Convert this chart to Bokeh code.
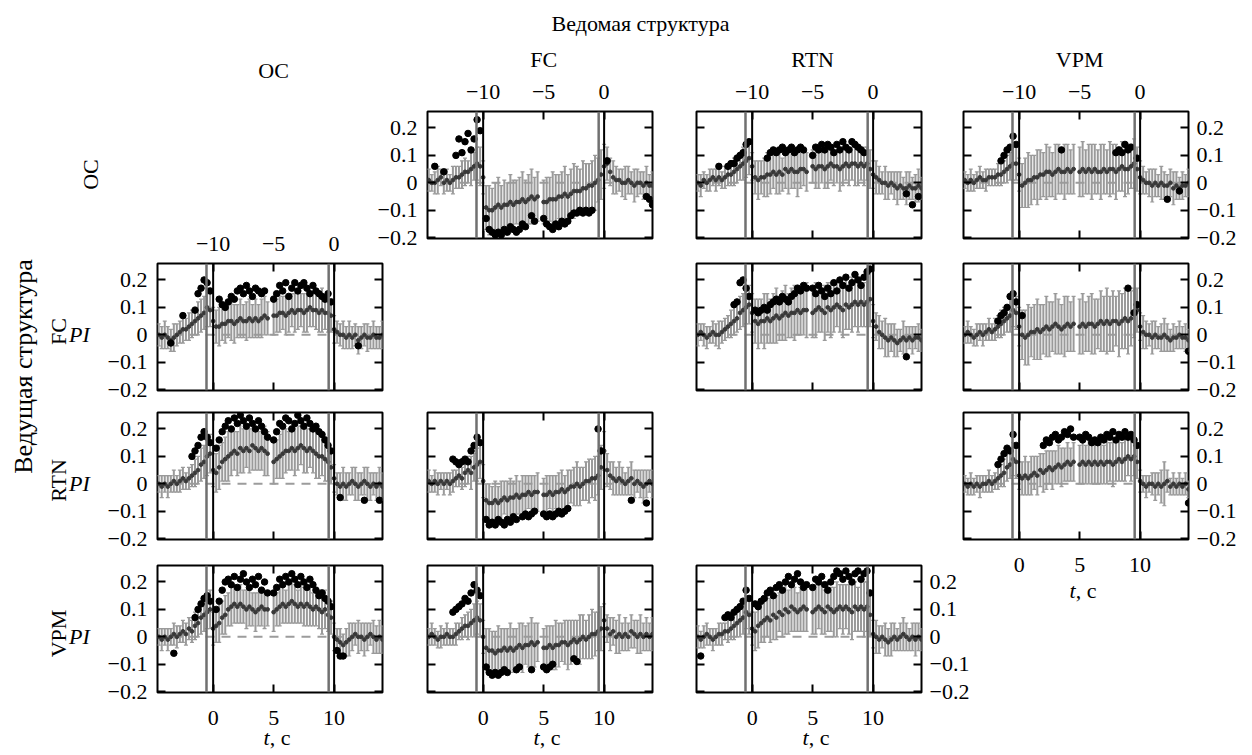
import math
from bokeh.plotting import figure
from bokeh.models import (Range1d, LinearAxis, FixedTicker, CustomJSTickFormatter, Span,
                          Whisker, TeeHead, ColumnDataSource, Label, GridBox)
from bokeh.embed import file_html
from bokeh.resources import INLINE

N = None

# ---------------- data ----------------
t = [-4.5, -4.25, -4.0, -3.75, -3.5, -3.25, -3.0, -2.75, -2.5, -2.25,
     -2.0, -1.75, -1.5, -1.25, -1.0, -0.75, -0.5, -0.25,
     0.0, 0.25, 0.5, 0.75, 1.0, 1.25, 1.5, 1.75, 2.0, 2.25, 2.5, 2.75, 3.0, 3.25, 3.5, 3.75, 4.0, 4.25, 4.5,
     4.75,
     5.0, 5.25, 5.5, 5.75, 6.0, 6.25, 6.5, 6.75, 7.0, 7.25, 7.5, 7.75, 8.0, 8.25, 8.5, 8.75, 9.0, 9.25, 9.5, 9.75,
     10.0, 10.25, 10.5, 10.75, 11.0, 11.25, 11.5, 11.75, 12.0, 12.25, 12.5, 12.75, 13.0, 13.25, 13.5, 13.75, 14.0]

structures = ["OC", "FC", "RTN", "VPM"]
x_ticks = [0, 5, 10]
top_ticks = [-10, -5, 0]
y_ticks = [-0.2, -0.1, 0, 0.1, 0.2]
markers_gray = [-0.55, 9.55]
markers_black = [0.0, 10.0]

# values in units of 0.01 (PI); mean, error half-width, black (extreme) points
oc_fc_mean = [1, 0, 0, 1, 2, 0, 1, 0, 1, 2,
              2, 3, 4, 4, 5, 6, 7, 6,
              2, -9, -10, -10, -9, -8, -9, -8, -8, -7, -8, -7, -7, -6, -7, -6, -5, -6, -5,
              N,
              -7, -7, -6, -6, -6, -5, -5, -4, -5, -4, -3, -3, -3, -2, -2, -1, -1, 0, 1, 3,
              6, 7, 4, 2, 1, 1, 0, 0, 1, 0, -1, 0, 0, -1, 0, -1, -1]
oc_fc_err = [4, 3, 4, 5, 3, 4, 4, 3, 5, 4,
             4, 5, 5, 4, 6, 5, 6, 7,
             6, 8, 9, 8, 9, 10, 8, 9, 8, 10, 9, 8, 9, 10, 8, 9, 10, 8, 9,
             N,
             8, 9, 8, 10, 9, 8, 9, 10, 8, 9, 10, 9, 8, 10, 9, 8, 9, 10, 8, 9,
             8, 6, 5, 6, 5, 4, 5, 6, 5, 4, 6, 5, 4, 5, 6, 4, 5]
oc_fc_blk = [N, N, 6, N, N, 4, N, N, N, 10,
             16, 11, 15, 18, 12, 16, 23, 19,
             N, -13, -17, -18, -19, -18, -19, -17, -18, -16, -17, -18, -17, -15, -16, N, -12, -14, N,
             N,
             -13, -15, -16, -17, -15, -16, -14, -15, -14, -12, -11, -11, -10, -11, -10, -11, -10, N, N, N,
             N, 8, N, N, N, N, N, N, N, N, N, N, N, N, -5, -6, -8]

oc_rtn_mean = [0, -1, 1, 0, 1, 2, 1, 2, 1, 2,
               3, 3, 4, 5, 6, 7, 8, 9,
               6, 2, 1, 2, 2, 3, 3, 4, 3, 4, 3, 5, 4, 5, 4, 4, 5, 5, 4,
               N,
               6, 5, 6, 6, 5, 6, 7, 6, 6, 5, 6, 7, 6, 7, 7, 6, 7, 6, 7, 5,
               3, 2, 1, 0, 0, -1, 0, -1, -2, -1, -2, -2, -1, -2, -2, -1, -2]
oc_rtn_err = [3, 4, 3, 3, 4, 3, 4, 3, 3, 4,
              4, 4, 5, 5, 5, 6, 6, 6,
              5, 6, 7, 6, 7, 8, 7, 6, 7, 8, 6, 7, 8, 7, 6, 9, 7, 6, 7,
              N,
              6, 7, 8, 6, 7, 8, 6, 7, 6, 8, 7, 6, 7, 6, 8, 7, 6, 7, 6, 7,
              5, 6, 5, 4, 6, 5, 4, 5, 6, 5, 4, 6, 5, 4, 5, 6, 4]
oc_rtn_blk = [N, N, N, N, N, N, N, 6, N, N,
              6, 7, 7, 9, 10, 11, 14, 15,
              N, N, N, N, N, 9, 11, 12, 11, 12, 13, 11, 12, 13, 11, 12, 13, 12, N,
              N,
              10, 13, 12, 14, 12, 14, 13, 11, 14, 12, 15, 13, 12, 15, 14, 13, 12, 11, N, N,
              N, N, N, N, N, N, N, N, N, N, N, -4, N, -8, N, -5, N]

oc_vpm_mean = [1, 0, 1, 0, 1, 2, 1, 1, 2, 2,
               2, 3, 3, 4, 5, 6, 7, 7,
               3, -1, 0, 1, 1, 2, 2, 3, 3, 4, 4, 3, 4, 5, 4, 4, 5, 4, 5,
               N,
               4, 5, 4, 5, 4, 5, 4, 4, 5, 4, 5, 5, 4, 5, 6, 5, 5, 6, 7, 5,
               2, 1, 0, 0, -1, 0, -1, 0, -1, -1, 0, -2, -1, -2, -1, -1, 0]
oc_vpm_err = [3, 3, 4, 3, 3, 4, 3, 4, 3, 3,
              3, 4, 4, 4, 5, 5, 6, 6,
              6, 8, 9, 10, 9, 8, 10, 9, 8, 10, 9, 8, 10, 9, 8, 10, 9, 8, 9,
              N,
              9, 10, 8, 9, 10, 9, 8, 10, 9, 8, 10, 9, 10, 8, 9, 10, 9, 8, 9, 8,
              6, 5, 4, 5, 6, 5, 4, 6, 5, 4, 5, 6, 5, 4, 5, 4, 5]
oc_vpm_blk = [N, N, N, N, N, N, N, N, N, N,
              N, N, 8, 10, 12, 13, 17, 14,
              N, N, N, N, N, N, N, N, N, N, N, N, N, N, 12, N, N, N, N,
              N,
              N, N, N, N, N, N, N, N, N, N, N, N, 11, 12, 11, 14, 12, 13, N, 9,
              N, N, N, N, N, N, N, N, N, -6, N, N, N, -3, N, N, N]

fc_oc_mean = [0, -1, 0, -1, -2, -1, 0, 1, 2, 2,
              3, 4, 5, 6, 7, 8, 10, 9,
              5, 3, 3, 4, 4, 5, 5, 4, 5, 6, 5, 5, 6, 5, 6, 5, 6, 7, 6,
              N,
              7, 7, 8, 8, 7, 8, 9, 8, 9, 9, 8, 9, 10, 9, 9, 8, 9, 8, 8, 7,
              2, 1, 0, 0, -1, 0, -1, 0, -2, -1, 0, -1, -1, 0, -1, -1, 0]
fc_oc_err = [4, 4, 5, 4, 4, 5, 4, 4, 5, 4,
             5, 5, 5, 6, 6, 6, 7, 6,
             5, 6, 7, 6, 7, 6, 7, 7, 6, 7, 6, 7, 7, 6, 7, 6, 7, 7, 6,
             N,
             7, 6, 7, 6, 7, 7, 6, 7, 7, 6, 7, 8, 7, 6, 7, 7, 8, 6, 7, 6,
             5, 4, 4, 5, 4, 5, 4, 4, 5, 4, 4, 5, 4, 5, 4, 4, 5]
fc_oc_blk = [N, N, N, N, -3, N, N, N, 7, N,
             N, N, 9, 15, 17, 20, 19, 16,
             N, N, 13, 11, 10, 12, 14, 13, 16, 17, 15, 18, 16, 14, 17, 16, 15, 16, N,
             N,
             13, 15, 18, 16, 19, 14, 17, 19, 16, 18, 19, 17, 15, 18, 16, 15, 14, 13, 15, 12,
             N, N, N, N, N, N, N, N, -4, N, N, N, N, N, N, N, N]

fc_rtn_mean = [0, 1, 0, -1, 0, 1, 0, 0, 1, 2,
               3, 4, 5, 6, 8, 9, 10, 11,
               8, 5, 4, 5, 5, 6, 5, 6, 7, 6, 7, 8, 7, 8, 8, 9, 8, 9, 9,
               N,
               8, 9, 10, 9, 8, 10, 9, 10, 11, 10, 9, 11, 10, 11, 12, 11, 12, 11, 12, 13,
               5, 3, 1, 0, -1, -2, -1, -2, -3, -2, -1, -2, -1, -2, -1, -1, -2]
fc_rtn_err = [4, 3, 4, 4, 3, 4, 4, 5, 4, 4,
              4, 5, 5, 5, 6, 6, 6, 7,
              7, 8, 9, 8, 10, 9, 8, 9, 10, 8, 9, 10, 8, 9, 10, 9, 8, 9, 10,
              N,
              9, 10, 9, 8, 10, 9, 10, 9, 8, 9, 10, 9, 8, 10, 9, 10, 9, 8, 9, 10,
              6, 5, 6, 5, 7, 6, 5, 6, 5, 4, 6, 5, 4, 5, 4, 5, 4]
fc_rtn_blk = [N, N, N, N, N, N, N, N, N, N,
              N, N, 11, 12, 19, 20, 17, 14,
              N, 9, 8, 9, 10, 9, 11, 12, 13, 12, 14, 13, 12, 14, 15, 17, 16, 18, 17,
              N,
              17, 15, 18, 16, 14, 17, 15, 19, 16, 20, 18, 21, 17, 19, 22, 20, 18, 21, 23, 24,
              N, N, N, N, N, N, N, N, N, N, N, -8, N, N, N, N, N]

fc_vpm_mean = [0, 1, 0, -1, 0, 1, 0, 1, 2, 1,
               2, 3, 4, 5, 6, 7, 9, 8,
               3, 0, -1, 0, 1, 1, 2, 1, 2, 3, 2, 3, 4, 3, 2, 3, 4, 3, 4,
               N,
               3, 4, 3, 4, 4, 3, 4, 5, 4, 5, 4, 5, 5, 4, 5, 6, 5, 6, 8, 9,
               3, 1, 0, 0, -1, 0, -1, -1, 0, -1, -2, -1, -1, 0, -1, -1, -2]
fc_vpm_err = [3, 4, 3, 3, 4, 3, 4, 3, 4, 3,
              4, 4, 5, 5, 5, 6, 6, 6,
              7, 9, 10, 11, 9, 10, 11, 10, 9, 11, 10, 9, 11, 10, 9, 11, 10, 9, 10,
              N,
              10, 11, 9, 10, 11, 10, 9, 11, 10, 12, 10, 11, 9, 12, 10, 11, 12, 10, 9, 8,
              5, 6, 5, 4, 6, 5, 4, 5, 6, 5, 4, 5, 4, 5, 4, 5, 4]
fc_vpm_blk = [N, N, N, N, N, N, N, N, N, N,
              N, 5, 7, 8, 10, 14, 15, 12,
              N, 7, N, N, N, N, N, N, N, N, N, N, N, N, N, N, N, N, N,
              N,
              N, N, N, N, N, N, N, N, N, N, N, N, N, N, N, N, 17, N, 8, 11,
              N, N, N, N, N, N, N, N, N, N, N, N, N, N, N, N, -6]

rtn_oc_mean = [0, -1, 0, -1, 0, 1, 0, 1, 2, 1,
               2, 3, 4, 5, 7, 8, 10, 11,
               5, 4, 6, 8, 9, 10, 11, 12, 11, 13, 12, 13, 12, 14, 13, 12, 13, 12, 11,
               N,
               8, 9, 10, 11, 12, 12, 13, 12, 13, 14, 13, 12, 13, 12, 11, 10, 10, 9, 8, 6,
               2, 0, -1, 0, -1, 0, 1, 0, -1, 0, 1, 0, -1, 0, -1, 0, -1]
rtn_oc_err = [3, 4, 3, 4, 3, 4, 3, 4, 4, 3,
              4, 4, 5, 5, 6, 6, 7, 7,
              6, 7, 8, 7, 8, 9, 8, 7, 8, 9, 8, 7, 8, 9, 8, 7, 8, 9, 8,
              N,
              8, 7, 8, 9, 8, 7, 8, 9, 8, 7, 9, 8, 7, 8, 9, 8, 7, 8, 7, 6,
              5, 4, 5, 6, 5, 4, 5, 6, 5, 4, 5, 6, 5, 4, 5, 6, 5]
rtn_oc_blk = [N, N, N, N, N, N, N, N, N, N,
              N, 10, 12, 14, 17, 19, 17, 15,
              N, 13, 16, 19, 21, 23, 20, 24, 22, 25, 23, 21, 24, 22, 20, 23, 21, 19, 17,
              N,
              16, 19, 22, 21, 24, 23, 20, 22, 25, 23, 21, 24, 22, 20, 21, 19, 18, 16, 14, 12,
              N, N, -5, N, N, N, N, N, N, N, -6, N, N, N, N, -6, N]

rtn_fc_mean = [1, 0, 1, 0, 1, 0, 1, 0, 1, 2,
               3, 2, 4, 5, 4, 6, 7, 8,
               1, -6, -7, -7, -6, -7, -6, -5, -6, -5, -5, -4, -5, -4, -4, -3, -4, -3, -3,
               N,
               -4, -4, -3, -4, -3, -3, -2, -3, -2, -1, -1, 0, -1, 0, 1, 1, 2, 2, 3, 6,
               12, 5, 3, 2, 1, 2, 1, 0, 1, 2, 0, 1, 0, -1, 0, 1, 0]
rtn_fc_err = [4, 3, 4, 4, 3, 4, 3, 4, 4, 3,
              4, 4, 5, 5, 6, 5, 6, 6,
              6, 6, 7, 6, 7, 6, 7, 6, 7, 7, 6, 7, 6, 7, 7, 6, 7, 6, 7,
              N,
              6, 7, 6, 7, 6, 7, 7, 6, 7, 6, 7, 8, 7, 6, 7, 8, 7, 8, 7, 8,
              7, 6, 5, 6, 5, 6, 5, 4, 5, 6, 5, 4, 5, 6, 5, 4, 5]
rtn_fc_blk = [N, N, N, N, N, N, N, N, 9, 8,
              7, 8, 9, 8, 12, 14, 17, 15,
              N, -13, -15, -14, -15, -13, -14, -15, -13, -14, -12, -13, N, -12, -11, -12, -11, -10, N,
              N,
              -11, -12, -11, -12, -11, -10, -11, -10, -9, N, N, N, N, N, N, N, N, N, 20, 12,
              N, N, N, N, N, N, N, N, N, -6, N, N, N, N, -7, N, N]

rtn_vpm_mean = [0, -1, 0, -1, 0, -1, 0, 0, 1, 0,
                1, 2, 3, 4, 6, 7, 9, 8,
                3, 2, 3, 2, 3, 4, 3, 5, 4, 5, 6, 5, 6, 7, 6, 7, 8, 7, 8,
                N,
                7, 8, 7, 8, 7, 8, 7, 8, 7, 8, 8, 7, 8, 9, 8, 9, 10, 9, 10, 8,
                1, 0, -1, 0, 0, -1, 0, -1, 0, 1, -1, 0, -1, 0, -1, 0, -2]
rtn_vpm_err = [3, 3, 4, 3, 3, 4, 3, 3, 4, 3,
               3, 4, 4, 5, 5, 5, 6, 6,
               5, 6, 7, 6, 7, 6, 7, 6, 7, 7, 6, 7, 6, 7, 7, 6, 7, 6, 7,
               N,
               7, 8, 7, 8, 7, 8, 7, 8, 7, 8, 7, 8, 7, 8, 7, 8, 7, 8, 7, 6,
               4, 3, 4, 3, 4, 5, 4, 6, 8, 4, 3, 4, 3, 4, 3, 4, 3]
rtn_vpm_blk = [N, N, N, N, N, N, N, N, N, N,
               N, 7, 9, 11, 13, 12, 18, 14,
               N, N, N, N, N, N, N, N, 14, 16, 15, 17, 18, 16, 17, 19, 18, 20, 17,
               N,
               17, 16, 18, 17, 15, 16, 15, 17, 16, 18, 17, 19, 16, 18, 17, 19, 17, 18, 16, 14,
               N, N, N, N, N, N, N, N, N, N, N, N, N, N, N, N, -7]

vpm_oc_mean = [0, -1, 0, -1, 0, 1, 0, 1, 2, 1,
               3, 2, 4, 5, 7, 8, 9, 10,
               3, 4, 5, 7, 8, 10, 11, 12, 11, 12, 11, 10, 11, 10, 9, 10, 11, 10, 10,
               N,
               9, 10, 11, 12, 11, 12, 13, 12, 11, 12, 11, 12, 11, 10, 11, 10, 9, 10, 8, 7,
               0, -1, -2, -3, -2, -1, 0, 1, 0, 0, -1, 0, 1, 0, -1, 0, -1]
vpm_oc_err = [3, 4, 3, 4, 3, 4, 4, 3, 4, 4,
              4, 4, 5, 5, 6, 6, 6, 7,
              6, 6, 7, 6, 7, 6, 7, 7, 6, 7, 6, 7, 7, 6, 7, 6, 7, 7, 6,
              N,
              7, 6, 7, 7, 6, 7, 8, 7, 6, 7, 7, 8, 7, 6, 7, 7, 8, 7, 6, 6,
              5, 4, 5, 4, 5, 6, 5, 4, 6, 5, 6, 5, 4, 6, 5, 6, 5]
vpm_oc_blk = [N, N, N, N, N, -6, N, N, N, N,
              N, N, 7, 10, 12, 14, 15, 13,
              N, 10, 13, 17, 20, 21, 19, 22, 18, 21, 23, 20, 18, 21, 19, 22, 17, 20, 16,
              N,
              16, 18, 21, 19, 22, 20, 23, 21, 19, 22, 20, 18, 21, 19, 17, 15, 16, 14, 13, 11,
              N, -5, -7, -7, N, N, N, N, N, N, N, N, N, N, N, N, N]

vpm_fc_mean = [0, 1, 0, -1, 0, 0, 1, 0, 0, 1,
               2, 3, 4, 4, 5, 6, 7, 6,
               0, -4, -5, -5, -6, -5, -5, -4, -5, -4, -5, -4, -3, -4, -3, -3, -2, -3, -2,
               N,
               -4, -4, -3, -4, -3, -3, -2, -2, -3, -2, -1, -2, -1, 0, -1, 0, 1, 1, 2, 3,
               6, 3, 1, 2, 0, 1, 0, 1, 0, 2, 1, 0, 1, 0, 1, 0, 1]
vpm_fc_err = [3, 4, 3, 3, 4, 3, 4, 3, 3, 4,
              3, 4, 4, 5, 5, 6, 6, 6,
              6, 7, 8, 7, 8, 9, 8, 7, 8, 9, 8, 7, 8, 9, 7, 8, 9, 8, 7,
              N,
              7, 8, 7, 8, 9, 8, 7, 8, 9, 8, 7, 8, 9, 8, 7, 8, 9, 8, 7, 8,
              6, 5, 6, 5, 6, 7, 5, 6, 5, 6, 5, 6, 7, 5, 6, 5, 6]
vpm_fc_blk = [N, N, N, N, N, N, N, N, 9, 10,
              11, 12, 14, 13, 16, 19, 17, 15,
              N, -11, -13, -14, -13, -14, -13, -12, -13, N, N, -12, -11, N, N, N, -12, N, N,
              N,
              -11, -12, -11, -10, N, N, N, N, N, N, -8, -9, N, N, N, N, N, N, N, N,
              N, N, N, N, N, N, N, N, N, N, N, N, N, N, N, N, N]

vpm_rtn_mean = [0, -1, 0, 1, 0, -1, 0, 1, 1, 2,
                2, 3, 4, 5, 6, 7, 9, 8,
                3, 2, 4, 5, 6, 7, 6, 8, 7, 9, 8, 10, 9, 11, 10, 9, 10, 11, 10,
                N,
                9, 10, 11, 10, 9, 11, 10, 9, 10, 11, 10, 11, 10, 9, 11, 10, 11, 10, 11, 8,
                1, 0, -1, 0, -1, -2, -1, 0, -1, 0, 1, 0, -1, 0, -1, 0, -1]
vpm_rtn_err = [4, 3, 4, 4, 3, 4, 3, 4, 4, 3,
               4, 4, 5, 5, 6, 6, 6, 7,
               6, 7, 8, 7, 8, 7, 8, 9, 8, 7, 8, 9, 8, 9, 8, 7, 8, 9, 8,
               N,
               8, 9, 8, 9, 8, 9, 8, 9, 10, 8, 9, 8, 9, 10, 9, 8, 9, 10, 9, 8,
               5, 6, 5, 4, 6, 5, 6, 5, 4, 5, 6, 5, 4, 5, 6, 5, 4]
vpm_rtn_blk = [N, -7, N, N, N, N, N, N, N, 7,
               8, 7, 9, 10, 11, 13, 17, 14,
               N, 12, 11, 13, 14, 16, 17, 15, 18, 19, 17, 20, 22, 19, 21, 23, 20, 18, 19,
               N,
               18, 21, 20, 22, 19, 17, 20, 22, 24, 23, 21, 24, 22, 20, 23, 24, 21, 23, 24, 16,
               N, N, N, N, N, N, N, N, N, N, N, N, N, N, N, N, N]

# ---------------- layout constants ----------------
FONT = "Liberation Serif"
FS = "22px"
FS_SIDE = "26px"
XMIN, XMAX = -4.6, 14.0
YMIN, YMAX = -0.203, 0.26
FL = [157, 427, 696, 963]       # frame left (page px) per column
FT = [111, 263, 412, 565]       # frame top (page px) per row
FW, FH = 225, 127
BL, BR, BT, BB = 60, 52, 48, 52
PW, PH = BL + FW + BR, BT + FH + BB
GW, GH = 1250, 754
JS = "return tick < 0 ? '\u2212' + String(-tick) : String(tick);"


def no_grid(p):
    p.xgrid.visible = False
    p.ygrid.visible = False


def add_axis(p, side, show, ticks, standoff, range_name=None):
    kw = {"x_range_name": range_name} if range_name else {}
    ax = LinearAxis(ticker=FixedTicker(ticks=ticks), formatter=CustomJSTickFormatter(code=JS), **kw)
    ax.axis_line_color = None
    ax.major_tick_in = 8
    ax.major_tick_out = 0
    ax.major_tick_line_width = 2
    ax.major_tick_line_color = "black"
    ax.minor_tick_line_color = None
    ax.major_label_standoff = standoff
    ax.major_label_text_font = FONT
    ax.major_label_text_font_size = FS
    ax.major_label_text_color = "black" if show else None
    p.add_layout(ax, side)


def make_panel(mean, err, blk, left=False, right=False, top=False, bottom=False):
    p = figure(width=PW, height=PH, x_range=Range1d(XMIN, XMAX), y_range=Range1d(YMIN, YMAX),
               x_axis_location=None, y_axis_location=None, toolbar_location=None,
               output_backend="svg", title=None,
               min_border_left=BL, min_border_right=BR, min_border_top=BT, min_border_bottom=BB,
               background_fill_color=None, border_fill_color=None,
               outline_line_color="black", outline_line_width=2)
    no_grid(p)
    p.extra_x_ranges = {"top": Range1d(XMIN - 10, XMAX - 10)}
    p.add_layout(Span(location=0, dimension="width", line_color="#9c9c9c", line_width=2,
                      line_dash="9 7", level="underlay"))
    ts, ms, lo, hi = [], [], [], []
    for ti, m, e in zip(t, mean, err):
        if m is None or e is None:
            continue
        ts.append(ti)
        ms.append(m / 100)
        lo.append((m - e) / 100)
        hi.append((m + e) / 100)
    src = ColumnDataSource(dict(t=ts, m=ms, lo=lo, hi=hi))
    gray = "#9a9a9a"
    p.add_layout(Whisker(source=src, base="t", lower="lo", upper="hi", line_color=gray, line_width=2,
                         upper_head=TeeHead(size=4, line_color=gray, line_width=1.2),
                         lower_head=TeeHead(size=4, line_color=gray, line_width=1.2)))
    p.scatter("t", "m", source=src, size=3.8, color="#383838")
    bt = [ti for ti, b in zip(t, blk) if b is not None]
    bv = [b / 100 for b in blk if b is not None]
    p.scatter(bt, bv, size=6.5, color="black")
    for loc in markers_gray:
        p.add_layout(Span(location=loc, dimension="height", line_color="#707070", line_width=2.5))
    for loc in markers_black:
        p.add_layout(Span(location=loc, dimension="height", line_color="black", line_width=2))
    add_axis(p, "below", bottom, x_ticks, 18)
    add_axis(p, "above", top, top_ticks, 13, "top")
    add_axis(p, "left", left, y_ticks, 10)
    add_axis(p, "right", right, y_ticks, 8)
    return p


panels = [
    (0, 1, oc_fc_mean, oc_fc_err, oc_fc_blk, dict(left=True, top=True)),
    (0, 2, oc_rtn_mean, oc_rtn_err, oc_rtn_blk, dict(top=True)),
    (0, 3, oc_vpm_mean, oc_vpm_err, oc_vpm_blk, dict(top=True, right=True)),
    (1, 0, fc_oc_mean, fc_oc_err, fc_oc_blk, dict(left=True, top=True)),
    (1, 2, fc_rtn_mean, fc_rtn_err, fc_rtn_blk, dict()),
    (1, 3, fc_vpm_mean, fc_vpm_err, fc_vpm_blk, dict(right=True)),
    (2, 0, rtn_oc_mean, rtn_oc_err, rtn_oc_blk, dict(left=True)),
    (2, 1, rtn_fc_mean, rtn_fc_err, rtn_fc_blk, dict()),
    (2, 3, rtn_vpm_mean, rtn_vpm_err, rtn_vpm_blk, dict(right=True, bottom=True)),
    (3, 0, vpm_oc_mean, vpm_oc_err, vpm_oc_blk, dict(left=True, bottom=True)),
    (3, 1, vpm_fc_mean, vpm_fc_err, vpm_fc_blk, dict(bottom=True)),
    (3, 2, vpm_rtn_mean, vpm_rtn_err, vpm_rtn_blk, dict(right=True, bottom=True)),
]

# ---------------- background figure with free texts ----------------
bg = figure(width=GW, height=GH, x_range=Range1d(0, GW), y_range=Range1d(0, GH),
            x_axis_location=None, y_axis_location=None, toolbar_location=None,
            output_backend="svg", title=None, min_border=0, outline_line_color=None,
            background_fill_color=None, border_fill_color=None)
no_grid(bg)


def txt(s, px, py, angle=0.0, style="normal", align="center", size=FS):
    bg.add_layout(Label(x=px, y=GH - py, text=s, angle=angle, text_font=FONT,
                        text_font_size=size, text_font_style=style, text_align=align,
                        text_baseline="middle", text_color="black"))


X5 = (5 - XMIN) / (XMAX - XMIN) * FW
txt("Ведомая структура", 640, 23)
for j, name in enumerate(structures):
    txt(name, FL[j] + X5, 70 if j == 0 else 59)
txt(structures[0], 90, FT[0] + 63, angle=math.pi / 2)
for r in range(1, 4):
    txt(structures[r], 58, FT[r] + 68, angle=math.pi / 2)
    txt("PI", 79, FT[r] + 71, style="italic")
txt("Ведущая структура", 23, 366, angle=math.pi / 2, size=FS_SIDE)
for (c, y) in [(0, 737), (1, 737), (2, 737), (3, 590)]:
    xc = FL[c] + X5
    txt("t", xc - 4, y, style="italic", align="right")
    txt(", с", xc - 4, y, align="left")

children = [(bg, 0, 0, GH, GW)]
for r, c, m, e, b, kw in panels:
    p = make_panel(m, e, b, **kw)
    children.append((p, FT[r] - BT, FL[c] - BL, PH, PW))

layout = GridBox(children=children, rows="1px", cols="1px", spacing=0)

open("out.html", "w", encoding="utf-8").write(file_html(layout, INLINE, title="PI"))
